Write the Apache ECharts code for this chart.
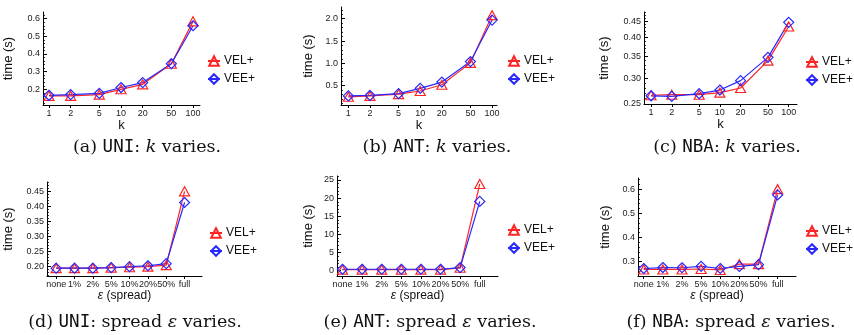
<!DOCTYPE html>
<html>
<head>
<meta charset="utf-8">
<script src="https://cdn.jsdelivr.net/npm/echarts@6/dist/echarts.min.js"></script>
<style>
  html, body { margin: 0; padding: 0; background: #fff; }
  #chart { width: 854px; height: 335px; }
</style>
</head>
<body>
<div id="chart"></div>
<script>
// x categories
const kValues = [1, 2, 5, 10, 20, 50, 100];
const spreadLabels = ['none', '1%', '2%', '5%', '10%', '20%', '50%', 'full'];

// (a)-(c): k varies
const uniK_VEL = [0.163, 0.163, 0.17, 0.2, 0.228, 0.345, 0.585];
const uniK_VEE = [0.166, 0.17, 0.177, 0.21, 0.238, 0.345, 0.56];
const antK_VEL = [0.25, 0.27, 0.31, 0.38, 0.52, 1.01, 2.08];
const antK_VEE = [0.27, 0.28, 0.32, 0.44, 0.58, 1.04, 1.97];
const nbaK_VEL = [0.266, 0.267, 0.267, 0.271, 0.28, 0.34, 0.433];
const nbaK_VEE = [0.265, 0.264, 0.269, 0.276, 0.295, 0.348, 0.446];

// (d)-(f): spread varies
const uniS_VEL = [0.195, 0.195, 0.195, 0.197, 0.198, 0.2, 0.205, 0.45];
const uniS_VEE = [0.195, 0.195, 0.195, 0.197, 0.2, 0.203, 0.21, 0.413];
const antS_VEL = [0.3, 0.3, 0.3, 0.3, 0.3, 0.3, 0.8, 23.9];
const antS_VEE = [0.4, 0.4, 0.4, 0.4, 0.4, 0.4, 0.85, 19.1];
const nbaS_VEL = [0.268, 0.268, 0.268, 0.27, 0.266, 0.29, 0.29, 0.6];
const nbaS_VEE = [0.272, 0.276, 0.275, 0.281, 0.272, 0.281, 0.288, 0.576];

// y tick labels per panel
const uniK_yTicks = [0.2, 0.3, 0.4, 0.5, 0.6];
const antK_yTicks = [0.5, 1.0, 1.5, 2.0];
const nbaK_yTicks = [0.25, 0.30, 0.35, 0.40, 0.45];
const uniS_yTicks = [0.20, 0.25, 0.30, 0.35, 0.40, 0.45];
const antS_yTicks = [0, 5, 10, 15, 20, 25];
const nbaS_yTicks = [0.3, 0.4, 0.5, 0.6];

const RED = '#ff2424';
const BLUE = '#2828ff';
const SANS = 'Liberation Sans';

const panels = [
  { grid: { left: 43, top: 12, width: 157, height: 93 }, byK: true, xMin: 0.826, xMax: 125,
    yLog: false, yMin: 0.111, yMax: 0.638, yTicks: uniK_yTicks, yDigits: 1, yMinor: 0.02, nameGap: 28,
    vel: uniK_VEL, vee: uniK_VEE, legend: [207, 55], cap: [147, 149], tag: '(a) ', ds: 'UNI' },
  { grid: { left: 341, top: 7, width: 156, height: 98 }, byK: true, xMin: 0.79, xMax: 117,
    yLog: false, yMin: 0.066, yMax: 2.263, yTicks: antK_yTicks, yDigits: 1, yMinor: 0.1, nameGap: 26,
    vel: antK_VEL, vee: antK_VEE, legend: [507, 55], cap: [437, 149], tag: '(b) ', ds: 'ANT' },
  { grid: { left: 644, top: 12, width: 153, height: 92 }, byK: true, xMin: 0.79, xMax: 132,
    yLog: true, yMin: 0.25, yMax: 0.48, yTicks: nbaK_yTicks, yDigits: 2, yMinor: 0.01, nameGap: 33,
    vel: nbaK_VEL, vee: nbaK_VEE, legend: [805, 56], cap: [727, 149], tag: '(c) ', ds: 'NBA' },
  { grid: { left: 47, top: 182, width: 155, height: 94 }, byK: false, xMin: -0.5, xMax: 7.95,
    yLog: false, yMin: 0.169, yMax: 0.481, yTicks: uniS_yTicks, yDigits: 2, yMinor: 0.01, nameGap: 32,
    vel: uniS_VEL, vee: uniS_VEE, legend: [209, 227], cap: [135, 324], tag: '(d) ', ds: 'UNI' },
  { grid: { left: 337, top: 176, width: 161, height: 100 }, byK: false, xMin: -0.28, xMax: 7.93,
    yLog: false, yMin: -1.46, yMax: 26.1, yTicks: antS_yTicks, yDigits: 0, yMinor: 1, nameGap: 22,
    vel: antS_VEL, vee: antS_VEE, legend: [507, 224], cap: [430, 324], tag: '(e) ', ds: 'ANT' },
  { grid: { left: 638, top: 178, width: 158, height: 98 }, byK: false, xMin: -0.3, xMax: 7.96,
    yLog: false, yMin: 0.241, yMax: 0.646, yTicks: nbaS_yTicks, yDigits: 1, yMinor: 0.02, nameGap: 26,
    vel: nbaS_VEL, vee: nbaS_VEE, legend: [805, 225], cap: [731, 324], tag: '(f) ', ds: 'NBA' }
];

function minorTicks(min, max, step) {
  const out = [];
  for (let v = Math.ceil(min / step) * step; v <= max + 1e-9; v += step) {
    out.push(+v.toFixed(6));
  }
  return out;
}

const option = {
  backgroundColor: '#ffffff',
  animation: false,
  grid: [], xAxis: [], yAxis: [], series: [], legend: [], title: []
};

panels.forEach((p, i) => {
  const gMain = option.grid.length;
  option.grid.push(p.grid);
  // twin grid at the same rect, only for minor y ticks
  const gMinor = option.grid.length;
  option.grid.push(Object.assign({}, p.grid));

  const xs = p.byK ? kValues : spreadLabels.map((_, j) => j);
  const xIndex = option.xAxis.length;
  option.xAxis.push({
    gridIndex: gMain,
    position: 'bottom',
    type: p.byK ? 'log' : 'value',
    logBase: 10,
    min: p.xMin,
    max: p.xMax,
    name: p.byK ? 'k' : '{e|ε} (spread)',
    nameLocation: 'middle',
    nameGap: 13,
    nameTextStyle: {
      fontFamily: SANS, fontSize: p.byK ? 13 : 12, color: '#111', verticalAlign: 'top',
      rich: { e: { fontFamily: SANS, fontStyle: 'italic', fontSize: 12, color: '#111' } }
    },
    axisLine: { onZero: false, lineStyle: { color: '#000', width: 1 } },
    axisTick: { customValues: xs, length: 3, lineStyle: { color: '#000' } },
    axisLabel: {
      customValues: xs, margin: 4, fontFamily: SANS, fontSize: 9, color: '#222',
      formatter: (v) => p.byK ? String(Math.round(v)) : spreadLabels[Math.round(v)]
    },
    splitLine: { show: false }
  });
  option.xAxis.push({
    gridIndex: gMinor, position: 'bottom', type: 'value', min: 0, max: 1, show: false,
    axisLine: { onZero: false }
  });

  const yBase = {
    position: 'left',
    type: p.yLog ? 'log' : 'value',
    logBase: 10,
    min: p.yMin,
    max: p.yMax,
    splitLine: { show: false }
  };
  const yIndex = option.yAxis.length;
  option.yAxis.push(Object.assign({}, yBase, {
    gridIndex: gMain,
    name: 'time (s)',
    nameLocation: 'middle',
    nameGap: p.nameGap,
    nameTextStyle: { fontFamily: SANS, fontSize: 13, color: '#111' },
    axisLine: { show: true, onZero: false, lineStyle: { color: '#000', width: 1 } },
    axisTick: { customValues: p.yTicks, inside: true, length: 4, lineStyle: { color: '#000' } },
    axisLabel: {
      customValues: p.yTicks, margin: 3, fontFamily: SANS, fontSize: 9, color: '#222',
      formatter: (v) => v.toFixed(p.yDigits)
    }
  }));
  option.yAxis.push(Object.assign({}, yBase, {
    gridIndex: gMinor,
    axisLine: { show: false, onZero: false },
    axisLabel: { show: false },
    axisTick: {
      customValues: minorTicks(p.yMin, p.yMax, p.yMinor), inside: true, length: 2,
      lineStyle: { color: '#000', width: 0.8 }
    }
  }));

  [['VEL+', p.vel, RED, 'triangle', [10, 9]], ['VEE+', p.vee, BLUE, 'diamond', [10, 10]]]
    .forEach(([name, vals, color, symbol, size]) => {
      option.series.push({
        name: name,
        type: 'line',
        xAxisIndex: xIndex,
        yAxisIndex: yIndex,
        data: vals.map((v, j) => [xs[j], v]),
        symbol: symbol,
        symbolSize: size,
        showAllSymbol: true,
        color: color,
        lineStyle: { color: color, width: 1.2 },
        itemStyle: { color: 'rgba(255,255,255,0)', borderColor: color, borderWidth: 1.2 },
        emphasis: { disabled: true }
      });
    });

  option.legend.push({
    orient: 'vertical',
    left: p.legend[0],
    top: p.legend[1],
    itemWidth: 12,
    itemHeight: 12,
    itemGap: 6,
    padding: 0,
    selectedMode: false,
    data: ['VEL+', 'VEE+'],
    textStyle: { fontFamily: SANS, fontSize: 12, color: '#111', padding: [0, 0, 0, -1] }
  });

  const capText = p.byK
    ? `{n|${p.tag}}{m|${p.ds}}{n|: }{i|k}{n| varies.}`
    : `{n|${p.tag}}{m|${p.ds}}{n|: spread }{i|ε}{n| varies.}`;
  option.title.push({
    text: capText,
    left: p.cap[0],
    top: p.cap[1] - 11,
    textAlign: 'center',
    padding: 0,
    textStyle: {
      fontWeight: 'normal',
      rich: {
        n: { fontFamily: 'DejaVu Serif', fontWeight: 'normal', fontSize: 17.5, color: '#111' },
        m: { fontFamily: 'DejaVu Sans Mono', fontWeight: 'normal', fontSize: 17.5, color: '#111' },
        i: { fontFamily: 'DejaVu Serif', fontStyle: 'italic', fontWeight: 'normal', fontSize: 17.5, color: '#111' }
      }
    }
  });
});

const chart = echarts.init(document.getElementById('chart'), null, { renderer: 'canvas' });
chart.setOption(option);
</script>
</body>
</html>
